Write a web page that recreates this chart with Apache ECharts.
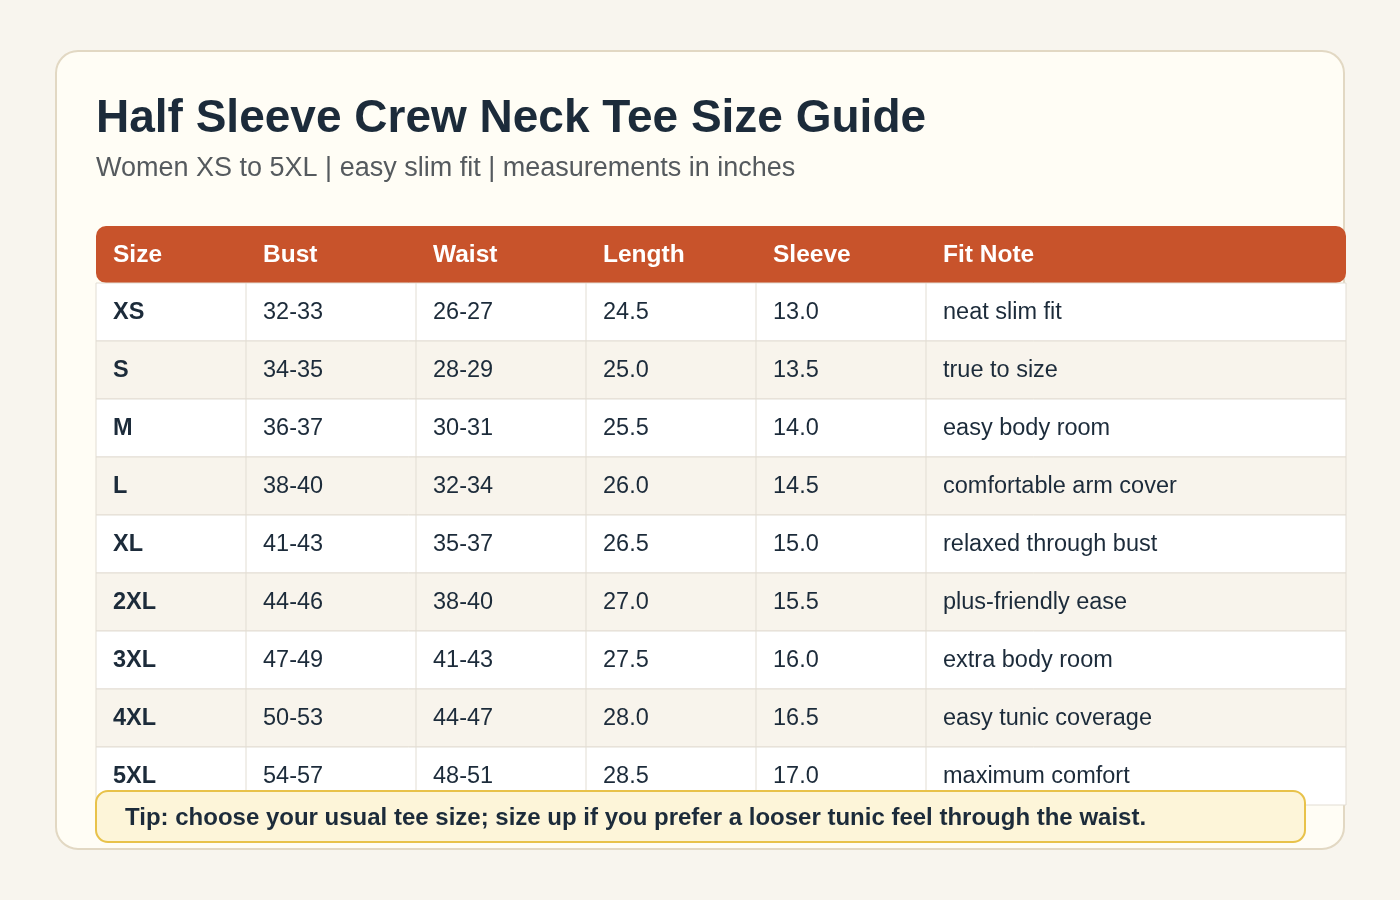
<!DOCTYPE html>
<html><head><meta charset="utf-8">
<script src="https://cdn.jsdelivr.net/npm/echarts@6/dist/echarts.min.js"></script>
<style>html,body{margin:0;background:#f8f5ee;}#c{width:1400px;height:900px;}</style>
</head><body><div id="c"></div>
<script>
const headers = ['Size','Bust','Waist','Length','Sleeve','Fit Note'];
const sizes = ['XS','S','M','L','XL','2XL','3XL','4XL','5XL'];
const bust = ['32-33','34-35','36-37','38-40','41-43','44-46','47-49','50-53','54-57'];
const waist = ['26-27','28-29','30-31','32-34','35-37','38-40','41-43','44-47','48-51'];
const length = ['24.5','25.0','25.5','26.0','26.5','27.0','27.5','28.0','28.5'];
const sleeve = ['13.0','13.5','14.0','14.5','15.0','15.5','16.0','16.5','17.0'];
const notes = ['neat slim fit','true to size','easy body room','comfortable arm cover','relaxed through bust','plus-friendly ease','extra body room','easy tunic coverage','maximum comfort'];
const title = 'Half Sleeve Crew Neck Tee Size Guide';
const subtitle = 'Women XS to 5XL | easy slim fit | measurements in inches';
const tip = 'Tip: choose your usual tee size; size up if you prefer a looser tunic feel through the waist.';

const font = 'Liberation Sans, Arial, sans-serif';
const colX = [96,246,416,586,756,926,1346];
const top0 = 226, headH = 57, rowH = 58;
const els = [];
els.push({type:'rect',shape:{x:56,y:51,width:1288,height:798,r:22},style:{fill:'#fffdf5',stroke:'#e2d8c3',lineWidth:2}});
els.push({type:'text',style:{x:96,y:119,text:title,font:'bold 46px '+font,fill:'#1c2b3a',textVerticalAlign:'middle'}});
els.push({type:'text',style:{x:96,y:169,text:subtitle,font:'27px '+font,fill:'#555a5e',textVerticalAlign:'middle'}});
els.push({type:'rect',shape:{x:96,y:top0,width:1250,height:headH,r:[10,10,10,10]},style:{fill:'#c8532b'}});
headers.forEach((h,i)=>els.push({type:'text',style:{x:colX[i]+17,y:top0+headH/2+1,text:h,font:'bold 24.5px '+font,fill:'#ffffff',textVerticalAlign:'middle'}}));
const cols=[sizes,bust,waist,length,sleeve,notes];
const y0 = top0+headH;
sizes.forEach((s,r)=>{
  const y=y0+r*rowH;
  els.push({type:'rect',shape:{x:96,y:y,width:1250,height:rowH},style:{fill:r%2?'#f8f4ec':'#ffffff',stroke:'#e2ddd3',lineWidth:1}});
  for(let c=1;c<6;c++) els.push({type:'line',shape:{x1:colX[c],y1:y,x2:colX[c],y2:y+rowH},style:{stroke:'#e2ddd3',lineWidth:1}});
  cols.forEach((col,c)=>els.push({type:'text',style:{x:colX[c]+17,y:y+rowH/2+1,text:col[r],font:(c===0?'bold ':'')+'23.5px '+font,fill:'#1c2b3a',textVerticalAlign:'middle'}}));
});
els.push({type:'rect',shape:{x:96,y:791,width:1209,height:51,r:12},style:{fill:'#fdf5d9',stroke:'#e8c24a',lineWidth:2}});
els.push({type:'text',style:{x:125,y:818,text:tip,font:'bold 24px '+font,fill:'#1c2b3a',textVerticalAlign:'middle'}});
const chart=echarts.init(document.getElementById('c'));
chart.setOption({backgroundColor:'#f8f5ee',graphic:{elements:els}});
</script></body></html>
